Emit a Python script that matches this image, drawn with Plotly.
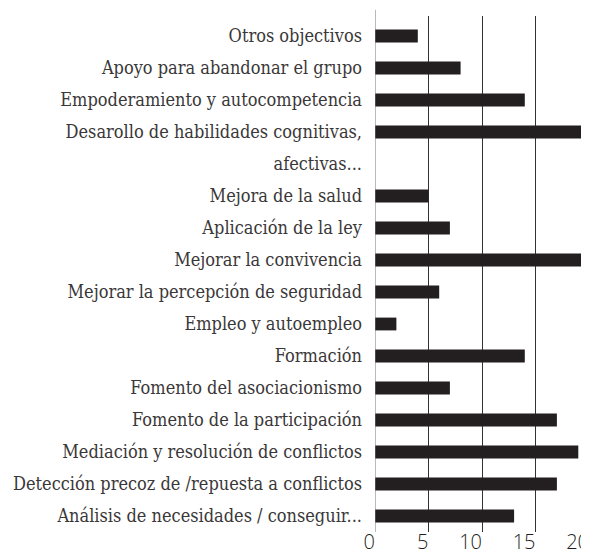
import plotly.graph_objects as go

categories = [
    "Otros objectivos",
    "Apoyo para abandonar el grupo",
    "Empoderamiento y autocompetencia",
    "Desarollo de habilidades cognitivas,",
    "afectivas...",
    "Mejora de la salud",
    "Aplicación de la ley",
    "Mejorar la convivencia",
    "Mejorar la percepción de seguridad",
    "Empleo y autoempleo",
    "Formación",
    "Fomento del asociacionismo",
    "Fomento de la participación",
    "Mediación y resolución de conflictos",
    "Detección precoz de /repuesta a conflictos",
    "Análisis de necesidades / conseguir...",
]
# "afectivas..." is the wrapped second line of the 4th label (no bar)
values = [4, 8, 14, 20, None, 5, 7, 20, 6, 2, 14, 7, 17, 19, 17, 13]

x_ticks = [0, 5, 10, 15, 20]
x_ticktext = ["0", "5", "10", "15", "20"]

SERIF = "DejaVu Serif Condensed, DejaVu Serif, serif"

fig = go.Figure(
    go.Bar(
        x=values,
        y=categories,
        orientation="h",
        marker=dict(color="#231f20", line=dict(width=0)),
    )
)

# page body has an 8px default margin, so the figure is sized to fit the window
fig.update_layout(
    width=581,
    height=548,
    margin=dict(l=367, r=0, t=8, b=24, autoexpand=False),
    paper_bgcolor="white",
    plot_bgcolor="white",
    bargap=0.6,
    showlegend=False,
    font=dict(family=SERIF, color="#231f20"),
)

fig.update_xaxes(
    range=[0, 20],
    tickvals=x_ticks,
    ticktext=x_ticktext,
    showgrid=True,
    gridcolor="#333333",
    gridwidth=1,
    zeroline=False,
    showline=False,
    ticks="",
    automargin=False,
    ticklabelposition="outside left",
    ticklabeloverflow="allow",
    ticklabelstandoff=-4,
    tickfont=dict(family="Open Sans", size=20, color="#231f20", weight=300),
    fixedrange=True,
)

fig.update_yaxes(
    categoryorder="array",
    categoryarray=categories,
    range=[len(categories) - 0.5, -0.625],
    showgrid=False,
    zeroline=False,
    showline=False,
    ticks="",
    automargin=False,
    ticklabelstandoff=12,
    tickfont=dict(family=SERIF, size=18, color="#3a3738"),
    fixedrange=True,
)

# y axis line, running a little above the top of the gridlines
fig.add_shape(
    type="line",
    xref="x", yref="paper",
    x0=0, x1=0, y0=0, y1=1.012,
    line=dict(color="#777777", width=1),
)

fig.write_html("out.html")
